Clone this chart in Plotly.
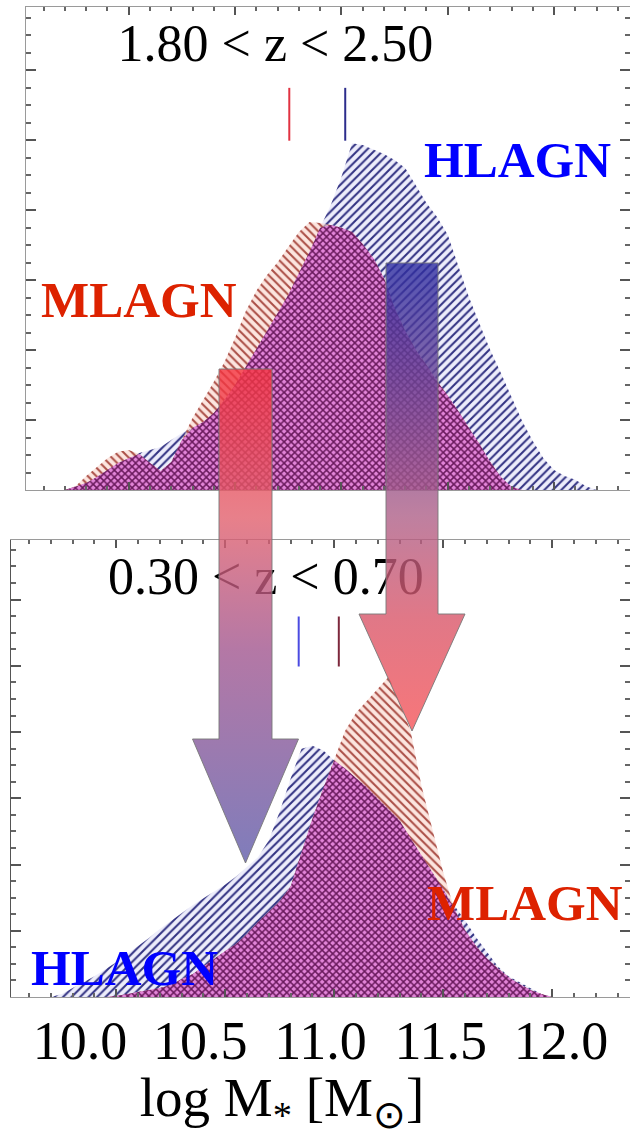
import plotly.graph_objects as go

W, H = 630, 1136
SERIF = "Liberation Serif, Times New Roman, serif"

# ---- smoothed stellar-mass distributions, 1.80 < z < 2.50 ----
MASS_HIGHZ = [9.70, 9.75, 9.80, 9.85, 9.90, 9.95, 10.00, 10.05, 10.10, 10.15,
              10.20, 10.25, 10.30, 10.35, 10.40, 10.45, 10.50, 10.55, 10.60, 10.65,
              10.70, 10.75, 10.80, 10.85, 10.90, 10.95, 11.00, 11.05, 11.10, 11.15,
              11.20, 11.25, 11.30, 11.35, 11.40, 11.45, 11.50, 11.55, 11.60, 11.65,
              11.70, 11.75, 11.80, 11.85, 11.90, 11.95, 12.00, 12.05, 12.10, 12.15,
              12.20]
HLAGN_HIGHZ = [0.0, 0.0009, 0.0020, 0.0037, 0.0057, 0.0077, 0.0091, 0.0106, 0.0114, 0.0123,
               0.0143, 0.0163, 0.0177, 0.0194, 0.0220, 0.0257, 0.0300, 0.0351, 0.0400, 0.0451,
               0.0503, 0.0557, 0.0620, 0.0680, 0.0749, 0.0814, 0.0894, 0.0991, 0.0986, 0.0974,
               0.0960, 0.0943, 0.0920, 0.0871, 0.0820, 0.0780, 0.0729, 0.0640, 0.0551, 0.0474,
               0.0400, 0.0334, 0.0266, 0.0197, 0.0140, 0.0091, 0.0057, 0.0040, 0.0029, 0.0011,
               0.0]
MLAGN_HIGHZ = [0.0, 0.0011, 0.0040, 0.0066, 0.0091, 0.0109, 0.0114, 0.0103, 0.0077, 0.0054,
               0.0080, 0.0143, 0.0206, 0.0257, 0.0309, 0.0366, 0.0434, 0.0511, 0.0569, 0.0614,
               0.0651, 0.0694, 0.0737, 0.0766, 0.0763, 0.0757, 0.0749, 0.0737, 0.0703, 0.0663,
               0.0606, 0.0520, 0.0454, 0.0400, 0.0357, 0.0311, 0.0269, 0.0226, 0.0177, 0.0131,
               0.0080, 0.0037, 0.0009, 0.0, 0.0, 0.0, 0.0, 0.0, 0.0, 0.0,
               0.0]

# ---- smoothed stellar-mass distributions, 0.30 < z < 0.70 ----
MASS_LOWZ = [9.70, 9.75, 9.80, 9.85, 9.90, 9.95, 10.00, 10.05, 10.10, 10.15,
             10.20, 10.25, 10.30, 10.35, 10.40, 10.45, 10.50, 10.55, 10.60, 10.65,
             10.70, 10.75, 10.80, 10.85, 10.90, 10.95, 11.00, 11.05, 11.10, 11.15,
             11.20, 11.25, 11.30, 11.35, 11.40, 11.45, 11.50, 11.55, 11.60, 11.65,
             11.70, 11.75, 11.80, 11.85, 11.90, 11.95, 12.00]
HLAGN_LOWZ = [0.0, 0.0009, 0.0027, 0.0045, 0.0063, 0.0084, 0.0105, 0.0130, 0.0154, 0.0178,
              0.0205, 0.0229, 0.0253, 0.0277, 0.0298, 0.0319, 0.0340, 0.0364, 0.0392, 0.0422,
              0.0473, 0.0560, 0.0660, 0.0750, 0.0759, 0.0744, 0.0714, 0.0690, 0.0660, 0.0633,
              0.0599, 0.0566, 0.0533, 0.0479, 0.0428, 0.0373, 0.0325, 0.0277, 0.0232, 0.0181,
              0.0136, 0.0093, 0.0063, 0.0045, 0.0027, 0.0009, 0.0]
MLAGN_LOWZ = [0.0, 0.0, 0.0, 0.0, 0.0, 0.0, 0.0003, 0.0009, 0.0015, 0.0021,
              0.0027, 0.0036, 0.0054, 0.0069, 0.0093, 0.0117, 0.0139, 0.0160, 0.0190, 0.0226,
              0.0259, 0.0289, 0.0334, 0.0437, 0.0539, 0.0630, 0.0714, 0.0804, 0.0858, 0.0895,
              0.0931, 0.0967, 0.0889, 0.0804, 0.0639, 0.0509, 0.0377, 0.0268, 0.0202, 0.0154,
              0.0117, 0.0087, 0.0060, 0.0039, 0.0021, 0.0009, 0.0]

# median stellar masses (MLAGN, HLAGN)
MEDIANS_HIGHZ = [10.755, 11.018]
MEDIANS_LOWZ = [11.021, 10.837]

TICK_VALUES = [10.0, 10.5, 11.0, 11.5, 12.0]
TICK_TEXT = ["10.0", "10.5", "11.0", "11.5", "12.0"]

# ---- styling ----
BLUE_LABEL = "#0000ff"
RED_LABEL = "#dd2200"
X_RANGE = [9.517, 12.357]
Y_RANGE = [0.0, 0.138]


def dom_x(left_px, right_px):
    return [left_px / W, right_px / W]


def dom_y(top_px, bottom_px):
    return [1 - bottom_px / H, 1 - top_px / H]


def px(xp, yp):
    return xp / W, 1 - yp / H


HATCH_HL = dict(shape="/", fgcolor="rgb(50,50,130)", bgcolor="rgba(225,225,248,0.6)",
                size=6, solidity=0.34)
HATCH_ML = dict(shape="\\", fgcolor="rgb(170,78,70)", bgcolor="rgba(250,212,202,0.6)",
                size=6, solidity=0.34)
HATCH_BOTH = dict(shape="x", fgcolor="rgb(105,25,92)", bgcolor="rgb(226,132,216)",
                  size=5, solidity=0.5)

fig = go.Figure()


def add_panel(mass, hl, ml, xa, ya):
    both = [min(a, b) for a, b in zip(hl, ml)]
    for vals, pat in ((hl, HATCH_HL), (ml, HATCH_ML), (both, HATCH_BOTH)):
        fig.add_trace(go.Scatter(
            x=mass, y=vals, mode="lines", line=dict(width=0),
            fill="tozeroy", fillpattern=pat, fillcolor="rgba(0,0,0,0)",
            hoverinfo="skip", showlegend=False, xaxis=xa, yaxis=ya))


def add_medians(values, colors, xa, ya):
    for v, c in zip(values, colors):
        fig.add_trace(go.Scatter(
            x=[v, v], y=[0.0998, 0.1149], mode="lines",
            line=dict(color=c, width=2), hoverinfo="skip",
            showlegend=False, xaxis=xa, yaxis=ya))


def add_title(text, x, y, xa, ya):
    fig.add_trace(go.Scatter(
        x=[x], y=[y], mode="text", text=[text], textposition="middle center",
        textfont=dict(family=SERIF, size=52, color="black"),
        cliponaxis=False, hoverinfo="skip", showlegend=False, xaxis=xa, yaxis=ya))


# top panel: 1.80 < z < 2.50
add_panel(MASS_HIGHZ, HLAGN_HIGHZ, MLAGN_HIGHZ, "x", "y")
add_medians(MEDIANS_HIGHZ, ["rgb(225,50,65)", "rgb(45,45,140)"], "x", "y")
add_title("1.80 < z < 2.50", 10.69, 0.1262, "x", "y")

# bottom panel: 0.30 < z < 0.70
add_panel(MASS_LOWZ, HLAGN_LOWZ, MLAGN_LOWZ, "x2", "y2")
add_medians(MEDIANS_LOWZ, ["rgb(125,40,60)", "rgb(75,75,225)"], "x2", "y2")
add_title("0.30 < z < 0.70", 10.686, 0.1255, "x2", "y2")

# shared mass-axis labels
fig.add_trace(go.Scatter(x=TICK_VALUES, y=[0] * len(TICK_VALUES), mode="markers",
                         marker=dict(opacity=0), hoverinfo="skip", showlegend=False,
                         xaxis="x3", yaxis="y3"))


# evolution arrows, drawn in figure pixel space
def arrow(cx, top, head_base, tip, shaft_half, head_half, stops):
    xs = [cx - shaft_half, cx + shaft_half, cx + shaft_half, cx + head_half, cx,
          cx - head_half, cx - shaft_half, cx - shaft_half]
    ys = [top, top, head_base, head_base, tip, head_base, head_base, top]
    fig.add_trace(go.Scatter(
        x=xs, y=ys, mode="lines", fill="toself",
        line=dict(color="rgba(120,120,120,0.9)", width=1),
        fillgradient=dict(type="vertical", colorscale=stops, start=top, stop=tip),
        hoverinfo="skip", showlegend=False, xaxis="x4", yaxis="y4"))


arrow(245.5, 369, 739, 863, 26.5, 53,
      [[0.0, "rgba(245,50,62,0.8)"], [0.3, "rgba(226,96,109,0.8)"],
       [0.57, "rgba(161,86,143,0.8)"], [1.0, "rgba(95,92,170,0.8)"]])
arrow(412, 263, 614, 731, 26, 53,
      [[0.0, "rgba(44,44,160,0.8)"], [0.54, "rgba(174,96,136,0.8)"],
       [0.76, "rgba(217,86,105,0.8)"], [1.0, "rgba(245,84,88,0.8)"]])

# class labels
for text, color, xp, yp in (("HLAGN", BLUE_LABEL, 517, 160), ("MLAGN", RED_LABEL, 139, 300),
                            ("MLAGN", RED_LABEL, 525, 903), ("HLAGN", BLUE_LABEL, 124, 968)):
    xx, yy = px(xp, yp)
    fig.add_annotation(x=xx, y=yy, xref="paper", yref="paper", text="<b>%s</b>" % text,
                       showarrow=False, xanchor="center", yanchor="middle",
                       font=dict(family=SERIF, size=51, color=color))

frame = dict(showgrid=False, zeroline=False, showline=True, linecolor="#9a9a9a",
             linewidth=1, mirror="ticks", ticks="inside", tickcolor="#555",
             tickwidth=1.5, showticklabels=False)

fig.update_layout(
    width=W, height=H, autosize=False, template="none",
    margin=dict(l=0, r=0, t=0, b=0),
    paper_bgcolor="white", plot_bgcolor="rgba(0,0,0,0)",
    showlegend=False,
    xaxis=dict(frame, domain=dom_x(26, 630), range=X_RANGE, anchor="y",
               tick0=10.0, dtick=0.5, ticklen=8,
               minor=dict(ticks="inside", dtick=0.1, ticklen=4, tickcolor="#666")),
    yaxis=dict(frame, domain=dom_y(7, 490), range=Y_RANGE, anchor="x",
               tick0=0, dtick=0.02, ticklen=10,
               minor=dict(ticks="inside", dtick=0.005, ticklen=5, tickcolor="#666")),
    xaxis2=dict(frame, domain=dom_x(11, 630), range=X_RANGE, anchor="y2",
                tick0=10.0, dtick=0.5, ticklen=8,
                minor=dict(ticks="inside", dtick=0.1, ticklen=4, tickcolor="#666")),
    yaxis2=dict(frame, domain=dom_y(540, 997), range=Y_RANGE, anchor="x2",
                tick0=0, dtick=0.02, ticklen=10, linecolor="#555",
                minor=dict(ticks="inside", dtick=0.005, ticklen=5, tickcolor="#666")),
    xaxis3=dict(domain=dom_x(0, 564), range=[9.6674, 12.0125], anchor="free",
                position=1 - 1004 / H, showline=False, showgrid=False, zeroline=False,
                ticks="", tickmode="array", tickvals=TICK_VALUES, ticktext=TICK_TEXT,
                tickfont=dict(family=SERIF, size=54, color="black"),
                title=dict(text="log M<sub>*</sub> [M<sub>⊙</sub>]", standoff=20,
                           font=dict(family=SERIF, size=55, color="black"))),
    yaxis3=dict(domain=[0, 0.05], range=[0, 1], anchor="x3", visible=False),
    xaxis4=dict(domain=[0, 1], range=[0, W], anchor="y4", visible=False),
    yaxis4=dict(domain=[0, 1], range=[H, 0], anchor="x4", visible=False),
)

fig.write_html("out.html")
